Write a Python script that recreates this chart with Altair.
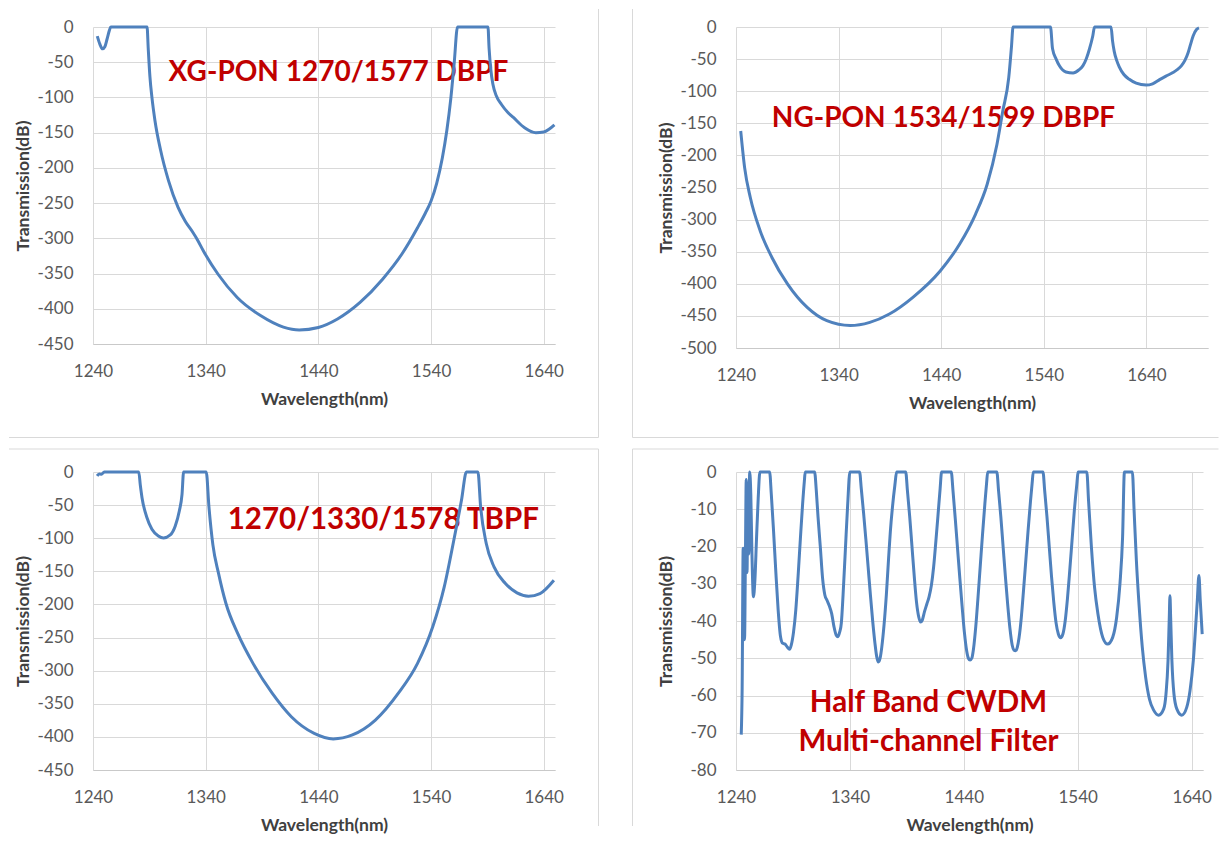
import altair as alt
import pandas as pd

# ---------------- data ----------------
x_ticks = [1240, 1340, 1440, 1540, 1640]
y_ticks_450 = [0, -50, -100, -150, -200, -250, -300, -350, -400, -450]
y_ticks_500 = [0, -50, -100, -150, -200, -250, -300, -350, -400, -450, -500]
y_ticks_80 = [0, -10, -20, -30, -40, -50, -60, -70, -80]

titles = ["XG-PON 1270/1577 DBPF", "NG-PON 1534/1599 DBPF",
          "1270/1330/1578 TBPF", "Half Band CWDM", "Multi-channel Filter"]

# XG-PON 1270/1577 DBPF
wl_xg = [1243.8, 1246, 1248.5, 1250.5, 1252.5, 1254.5, 1255.8, 1288, 1289, 1290.5,
         1292.3, 1295, 1300, 1307, 1315.5, 1322, 1328, 1333, 1338, 1351, 1368, 1389,
         1409, 1423, 1440, 1457, 1477, 1497, 1514, 1528, 1535, 1540, 1545, 1550, 1554,
         1557.5, 1560.5, 1563.5, 1590.5, 1591.5, 1593, 1595, 1598, 1602.5, 1608,
         1612.8, 1623, 1633, 1640, 1649.5]
db_xg = [-13, -24, -31, -28, -17, -5, 0, 0, -30, -70, -100, -133, -175, -218, -256,
         -276, -290, -303, -318, -351, -384, -410, -426, -430, -426.5, -414.5, -391,
         -358, -322.6, -285, -264, -247, -222, -186, -147, -102, -52, 0, 0, -30, -60,
         -82, -98, -110, -121, -128, -143, -150, -149, -139]

# NG-PON 1534/1599 DBPF
wl_ng = [1244.6, 1248.4, 1254, 1263.6, 1275, 1290.3, 1309.4, 1328.5, 1351.3, 1370.4,
         1389.5, 1412.4, 1439, 1458, 1473.4, 1484.8, 1494.3, 1500, 1505.8, 1508.5, 1510,
         1546.5, 1548.5, 1552, 1555.2, 1561.5, 1568.5, 1574, 1578, 1581.5, 1584.4,
         1587.7, 1589.4,
         1605.5, 1607, 1608.6, 1611, 1613.5, 1618, 1623.3, 1630, 1639.7, 1646, 1652.8,
         1659, 1665.8, 1670, 1674, 1677.5, 1680.6, 1683, 1685.5, 1688.8, 1691.2]
db_ng = [-162, -219, -266, -317.6, -359, -400.5, -436.8, -457.5, -465, -460, -447,
         -421, -380, -338, -291.7, -245, -183, -131, -79, -30, 0,
         0, -34, -50, -60.5, -70, -71.5, -67, -60.5, -49, -34.7, -14, 0,
         0, -22, -38, -52, -62, -74, -81.5, -87.5, -90.5, -88.5, -82, -76.5, -71,
         -66.5, -60.5, -52, -40, -27, -14, -4, -1.5]

# 1270/1330/1578 TBPF
wl_tb = [1243.6, 1245.5, 1247.5, 1250, 1280.6, 1282, 1283.5, 1287.9, 1292.3, 1298,
         1302.6, 1308.6, 1313, 1316.6, 1319, 1320.4, 1340.5, 1342.9, 1346.4, 1351.4,
         1358, 1368.4, 1382, 1399, 1416, 1436.3, 1453.2, 1470.2, 1490.6, 1511, 1528,
         1541.5, 1551.7, 1560.2, 1567, 1571.4, 1581.6, 1584, 1589, 1595.9, 1606,
         1616.3, 1626.5, 1636.7, 1649]
db_tb = [-6, -3, -3.5, 0, 0, -20, -38.8, -69, -86.5, -96.6, -99.5, -95, -81.5, -58.9,
         -33.7, 0, 0, -52.8, -110, -153, -198.6, -243.8, -289, -334, -369.5, -394.7,
         -403, -397, -374.6, -334, -289, -233.8, -173.5, -103, -42.7, 0, 0, -52.8,
         -108, -143.3, -168.4, -182.5, -187.5, -183.5, -163.4]

# Half Band CWDM multi-channel filter
wl_cw = [1244.6, 1245.4, 1246.3, 1247, 1247.5, 1248.3, 1249, 1249.7, 1250.4, 1251.2,
         1252, 1253, 1254, 1255.3, 1256.6, 1258, 1259.5, 1261, 1269.5,
         1271, 1273, 1275, 1277, 1279, 1281, 1283, 1285, 1287, 1288.5, 1290.5, 1292.5,
         1294.5, 1296.5, 1298.5, 1300, 1300.8, 1309,
         1310.5, 1312, 1314, 1316, 1318, 1320, 1322, 1324, 1326, 1328, 1329.5, 1331,
         1332.5, 1334, 1336, 1338, 1340, 1348.5,
         1350, 1352, 1354, 1356, 1358, 1360, 1362, 1363.5, 1365, 1366.5, 1368, 1370,
         1372, 1374, 1375.5, 1377.5, 1379.5, 1381, 1389,
         1390.5, 1392.5, 1394.5, 1396.5, 1398.5, 1400.5, 1402, 1403.5, 1405.5, 1407.5,
         1409.5, 1411.5, 1413.5, 1415.5, 1417.5, 1419.2, 1420.5, 1429,
         1430.5, 1432.5, 1434.5, 1436.5, 1438.5, 1440.5, 1442.5, 1444, 1445.5, 1447,
         1448.5, 1450.5, 1452.5, 1454.5, 1456.5, 1458.5, 1460, 1461, 1469,
         1470.5, 1472.5, 1474.5, 1476.5, 1478.5, 1480.5, 1482.5, 1484, 1485.5, 1487,
         1488.5, 1490.5, 1492.5, 1494.5, 1496.5, 1498.5, 1500, 1501, 1509.5,
         1511, 1513, 1515, 1517, 1519, 1521, 1523, 1525, 1527, 1529, 1531, 1533, 1535,
         1537, 1539, 1540.5, 1548,
         1549.5, 1552, 1554.8, 1557.7, 1562, 1566.3, 1570.7, 1574.2, 1577.1, 1579.4,
         1581, 1588,
         1589.5, 1591.5, 1593.8, 1596.7, 1599.6, 1603, 1606.8, 1611, 1615.5, 1617.5,
         1619.3, 1620.4, 1621, 1621.6, 1622.7, 1624.5, 1627, 1631.4, 1635.7, 1638.6,
         1641.5, 1643.5, 1645, 1646.4, 1647.6, 1649.3]
db_cw = [-70.5, -58, -20.5, -40, -45, -22, -2, -27, -3, -22,
         0, -6, -22, -33.5, -29, -18, -7, 0, 0,
         -6, -16, -27, -37, -44, -46, -46.2, -47, -47.6, -46.5, -43, -37,
         -28, -18, -8.5, -2.5, 0, 0,
         -5, -12, -20, -28.5, -33, -34.5, -36, -38, -41.5, -43.8, -44.2, -43,
         -40.5, -33, -21, -9, 0, 0,
         -4.5, -11, -18, -25.5, -33, -40, -46, -49.5, -51, -50, -47, -41,
         -33, -23, -16, -9, -3.5, 0, 0,
         -5, -12, -20, -28, -35, -39, -40.3, -39.8, -37.5, -35.5,
         -33.5, -30.5, -25.5, -18.5, -11, -4.5, 0, 0,
         -5, -12.5, -20.5, -28.5, -36, -43, -48, -50, -50.5, -50,
         -47.5, -41.5, -33.5, -25, -16.5, -8.5, -3, 0, 0,
         -5, -12, -20, -28, -35.5, -42, -46.5, -47.8, -48, -47,
         -44.5, -39, -31.5, -23.5, -15.5, -8, -3, 0, 0,
         -5, -12, -20, -28, -35, -40.5, -43.5, -44.5, -43.5, -40, -34, -26.5, -18.5,
         -10.5, -4, 0, 0,
         -7.6, -20, -31, -38, -44.4, -46.2, -44.4, -39, -30, -17.5,
         0, 0,
         -10.3, -23.7, -35.4, -47, -55, -61, -64, -65.3, -63.6, -59.6,
         -50.6, -39, -33.2, -39, -50.6, -59.6, -63.6, -65.3, -63.2, -58.7,
         -50.6, -41.7, -34.5, -27.8, -34.5, -43.5]

# ---------------- styling ----------------
FONT = "Lato"
BLUE = "#4F81BD"
RED = "#C00000"
GRID = "#d9d9d9"
BORDER = "#d9d9d9"
LABEL = "#595959"
TITLE = "#404040"


def x_axis():
    return alt.Axis(values=x_ticks, title="Wavelength(nm)", grid=True, gridColor=GRID,
                    gridWidth=1, ticks=False, tickSize=0, domain=True,
                    domainColor="#c9c9c9", domainWidth=1, labelFont=FONT,
                    labelFontSize=17, labelColor=LABEL, labelPadding=19,
                    labelFlush=False, labelOverlap=False,
                    labelExpr="'' + datum.value", titleFont=FONT,
                    titleFontSize=17.5, titleFontWeight="bold", titleColor=TITLE,
                    titlePadding=10, minExtent=36, maxExtent=36)


def y_axis(ticks):
    return alt.Axis(values=ticks, title="Transmission(dB)", grid=True, gridColor=GRID,
                    gridWidth=1, ticks=False, tickSize=0, domain=False,
                    labelFont=FONT, labelFontSize=17, labelColor=LABEL,
                    labelPadding=20, labelFlush=False, labelOverlap=False,
                    labelExpr="'' + datum.value", titleFont=FONT,
                    titleFontSize=17.5, titleFontWeight="bold", titleColor=TITLE,
                    titlePadding=6, minExtent=55, maxExtent=55)


one = pd.DataFrame({"k": [0]})


def rule(x1, x2, y1, y2):
    return alt.Chart(one).mark_rule(color=BORDER, strokeWidth=1).encode(
        x=alt.value(x1), x2=alt.value(x2), y=alt.value(y1), y2=alt.value(y2))


def note(text, x, y, size):
    return alt.Chart(one).mark_text(text=text, font=FONT, fontWeight="bold",
                                    fontSize=size, color=RED, align="center",
                                    baseline="middle").encode(
        x=alt.value(x), y=alt.value(y))


def panel(wl, db, xmax, yticks, w, h, notes, borders):
    df = pd.DataFrame({"wl": wl, "db": db})
    line = alt.Chart(df).mark_line(color=BLUE, strokeWidth=3,
                                   interpolate="monotone").encode(
        x=alt.X("wl:Q", scale=alt.Scale(domain=[1240, xmax], nice=False, zero=False),
                axis=x_axis()),
        y=alt.Y("db:Q", scale=alt.Scale(domain=[yticks[-1], 0], nice=False, zero=False),
                axis=y_axis(yticks)))
    layers = [rule(*b) for b in borders] + [note(*n) for n in notes] + [line]
    return alt.layer(*layers).properties(width=w, height=h)


p1 = panel(wl_xg, db_xg, 1650, y_ticks_450, 462, 317,
           [(titles[0], 245.5, 46, 28)],
           [(-84, 505.5, 410.5, 410.5), (505.5, 505.5, -18, 410.5)])
p2 = panel(wl_ng, db_ng, 1700, y_ticks_500, 472, 321,
           [(titles[1], 207.5, 92, 28)],
           [(-103.5, 482.5, 410.5, 410.5), (-103.5, -103.5, -18, 410.5)])
p3 = panel(wl_tb, db_tb, 1650, y_ticks_450, 462, 298,
           [(titles[2], 290.3, 48, 29.5)],
           [(-84, 505.5, -23, -23), (505.5, 505.5, -23, 354)])
p4 = panel(wl_cw, db_cw, 1650, y_ticks_80, 467, 298,
           [(titles[3], 192.5, 231, 29.5), (titles[4], 192.5, 270, 29.5)],
           [(-103.5, 482.5, -23, -23), (-103.5, -103.5, -23, 354)])

chart = alt.concat(p1, p2, p3, p4, columns=2,
                   spacing={"row": 124, "column": 181},
                   bounds="flush").properties(
    padding=0, background="white").configure_view(stroke="transparent")

chart.save("out.html", embed_options={"renderer": "svg", "actions": False})
